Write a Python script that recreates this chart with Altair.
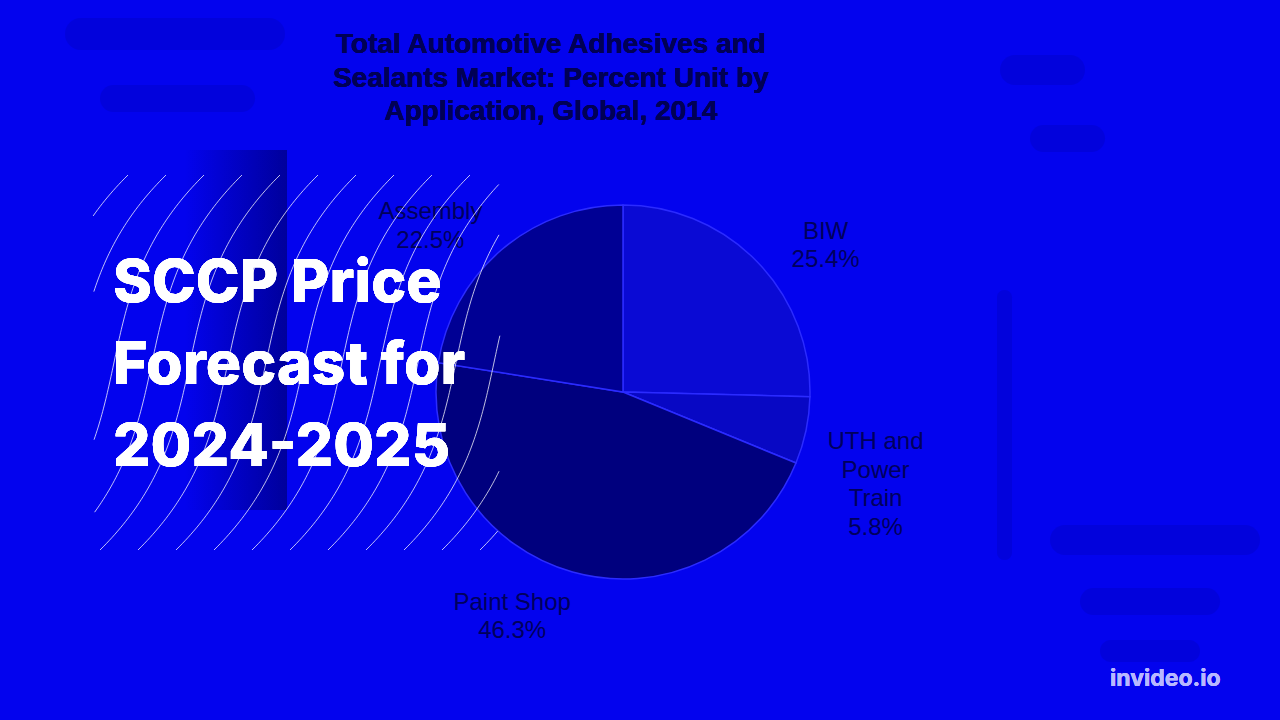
import altair as alt
import numpy as np
import pandas as pd

# ---- chart data ----
categories = ["BIW", "UTH and Power Train", "Paint Shop", "Assembly"]
shares = [25.4, 5.8, 46.3, 22.5]
label_names = ["BIW", "UTH and\nPower\nTrain", "Paint Shop", "Assembly"]
slice_colors = ["#0a0ad4", "#0808c4", "#00007e", "#000094"]

title_lines = ["Total Automotive Adhesives and", "Sealants Market: Percent Unit by", "Application, Global, 2014"]
overlay_lines = ["SCCP Price", "Forecast for", "2024-2025"]
brand = "invideo.io"

BG = "#0303ee"
W, H = 1280, 720
CX, CY, R = 623, 392, 187
LABEL_R = 255

pie_df = pd.DataFrame({
    "cat": categories,
    "share": shares,
    "order": list(range(len(categories))),
    "label": [f"{n}\n{s}%" for n, s in zip(label_names, shares)],
})

xs = alt.Scale(domain=[0, W])
ys = alt.Scale(domain=[0, H], reverse=True)

# ---- decorative background shading (blurred copies in the video frame) ----
decor = pd.DataFrame({
    "x": [65, 100, 1000, 1030, 1050, 1080, 1100, 997],
    "x2": [285, 255, 1085, 1105, 1260, 1220, 1200, 1012],
    "y": [18, 85, 55, 125, 525, 588, 640, 290],
    "y2": [50, 112, 85, 152, 555, 615, 662, 560],
})
decor_layer = alt.Chart(decor).mark_rect(color="#00008a", opacity=0.18, cornerRadius=16).encode(
    x=alt.X("x:Q", scale=xs, axis=None), x2="x2:Q",
    y=alt.Y("y:Q", scale=ys, axis=None), y2="y2:Q",
)

band = pd.DataFrame({"x": [185], "x2": [287], "y": [150], "y2": [510]})
band_layer = alt.Chart(band).mark_rect(
    color=alt.Gradient(
        gradient="linear",
        stops=[alt.GradientStop(color=BG, offset=0), alt.GradientStop(color="#00009c", offset=1)],
        x1=0, x2=1, y1=0, y2=0,
    )
).encode(
    x=alt.X("x:Q", scale=xs, axis=None), x2="x2:Q",
    y=alt.Y("y:Q", scale=ys, axis=None), y2="y2:Q",
)

# ---- pie ----
pie = alt.Chart(pie_df).mark_arc(outerRadius=R, stroke="#2b2bff", strokeWidth=1.5).encode(
    theta=alt.Theta("share:Q", stack=True),
    order=alt.Order("order:Q"),
    color=alt.Color("cat:N", scale=alt.Scale(domain=categories, range=slice_colors), legend=None),
    x=alt.value(CX), y=alt.value(CY),
)

lab_base = alt.Chart(pie_df).transform_window(
    cum="sum(share)", sort=[alt.SortField("order")], frame=[None, 0]
).transform_calculate(
    mid="(datum.cum - datum.share / 2) / 100 * 2 * PI",
).transform_calculate(
    lx=f"{CX} + {LABEL_R} * sin(datum.mid)",
    ly=f"{CY} - {LABEL_R} * cos(datum.mid)",
)

offsets = {"BIW": (20, 18), "UTH and Power Train": (3, -2), "Paint Shop": (-42, -35), "Assembly": (-27, 14)}
label_layers = []
for c in categories:
    dx, dy = offsets[c]
    label_layers.append(
        lab_base.transform_filter(alt.datum.cat == c).mark_text(
            dx=dx, dy=dy, font="Liberation Sans", fontSize=24, lineHeight=28.5,
            lineBreak="\n", align="center", baseline="middle", color="#00005c",
        ).encode(
            x=alt.X("lx:Q", scale=xs, axis=None),
            y=alt.Y("ly:Q", scale=ys, axis=None),
            text="label:N",
        )
    )

title_layer = alt.Chart(pie_df).mark_text(
    font="Liberation Sans", fontSize=28, fontWeight="bold", lineHeight=33.5, lineBreak="\n",
    align="center", baseline="alphabetic", color="#000055",
).encode(x=alt.value(551), y=alt.value(53), text=alt.value("\n".join(title_lines)))

# ---- decorative wave lines ----
rows = []
t = np.linspace(0, 1, 120)
for i, x0 in enumerate(np.arange(0, 620, 38)):
    yv = 550 - 375 * t
    xv = x0 + 80 * (t - 0.5) + 400 * (t - 0.5) ** 3
    keep = (xv >= 93) & (xv <= 500)
    for a, b, k in zip(xv, yv, keep):
        if k:
            rows.append({"x": a, "y": b, "line": i})
waves = pd.DataFrame(rows)
wave_layer = alt.Chart(waves).mark_line(color="white", opacity=0.75, strokeWidth=1).encode(
    x=alt.X("x:Q", scale=xs, axis=None), y=alt.Y("y:Q", scale=ys, axis=None), detail="line:N", order="y:Q"
)

overlay_layer = alt.Chart(pie_df).mark_text(
    font="Inter", fontSize=59, fontWeight=800, lineHeight=82, lineBreak="\n",
    align="left", baseline="alphabetic", color="white",
).encode(x=alt.value(113), y=alt.value(302), text=alt.value("\n".join(overlay_lines)))

brand_layer = alt.Chart(pie_df).mark_text(
    font="Inter", fontSize=23, fontWeight="bold", align="left", baseline="alphabetic", color="#b8b8ff",
).encode(x=alt.value(1110), y=alt.value(686), text=alt.value(brand))

chart = alt.layer(
    decor_layer, band_layer, pie, *label_layers, title_layer, wave_layer, overlay_layer, brand_layer
).properties(
    width=W, height=H, background=BG, padding=0, autosize=alt.AutoSizeParams(type="none")
).configure_view(stroke=None)

chart.save("out.html", embed_options={"renderer": "svg", "actions": False})
